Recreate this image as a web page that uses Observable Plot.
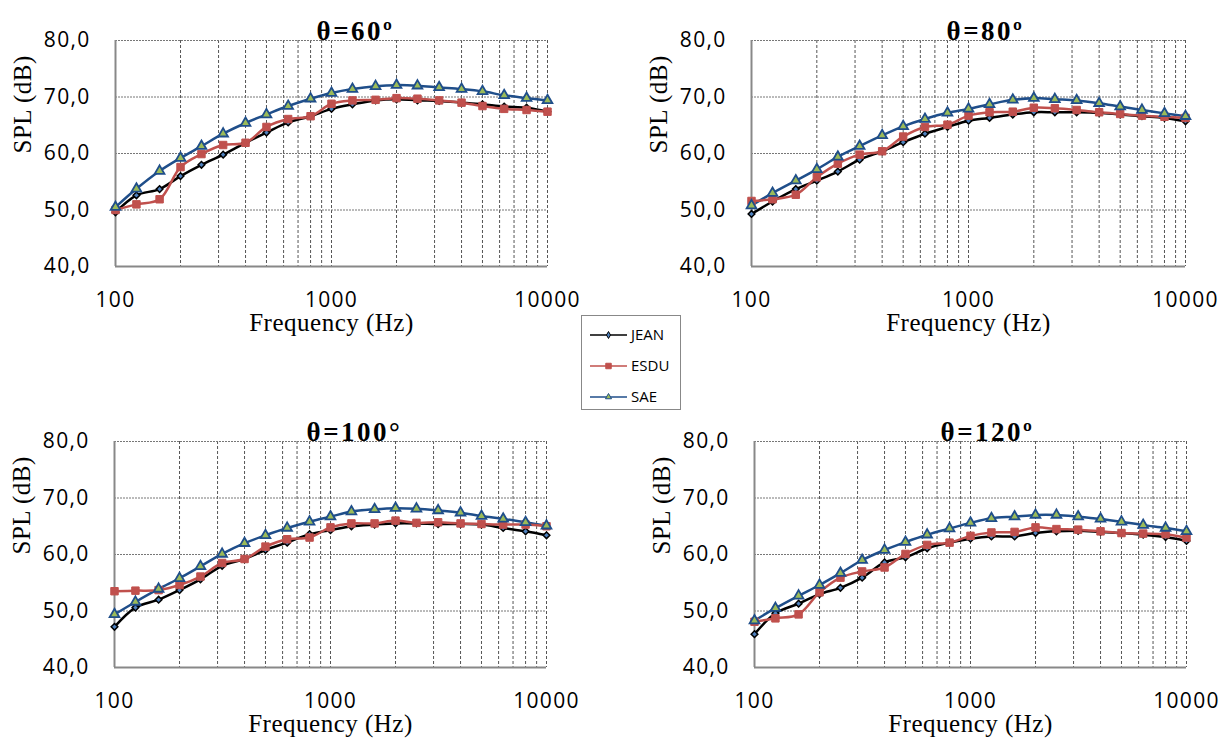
<!DOCTYPE html>
<html>
<head>
<meta charset="utf-8">
<script src="https://cdn.jsdelivr.net/npm/d3@7"></script>
<script src="https://cdn.jsdelivr.net/npm/@observablehq/plot@0.6"></script>
<style>
  html, body { margin: 0; padding: 0; background: #fff; }
  #root { position: relative; width: 1232px; height: 744px; overflow: hidden; }
  .panel { position: absolute; }
  #legend { position: absolute; left: 581px; top: 315px; }
  g[aria-label="x-axis tick label"] text, g[aria-label="y-axis tick label"] text { letter-spacing: 1.3px; }
</style>
</head>
<body>
<div id="root"></div>
<script>
// ---- data ----
const freqs = [100, 125, 160, 200, 250, 315, 400, 500, 630, 800, 1000, 1250, 1600, 2000, 2500, 3150, 4000, 5000, 6300, 8000, 10000];
const seriesNames = ["JEAN", "ESDU", "SAE"];
const panelTitles = ["θ=60º", "θ=80º", "θ=100°", "θ=120º"];
const xTicks = [100, 1000, 10000];
const yTicks = [40, 50, 60, 70, 80];
const gridFreqs = [200, 300, 400, 500, 600, 700, 800, 900, 1000, 2000, 3000, 4000, 5000, 6000, 7000, 8000, 9000];

const jean60 = [49.6, 52.6, 53.7, 56.0, 58.0, 59.8, 61.9, 63.7, 65.5, 66.6, 67.9, 68.7, 69.4, 69.6, 69.4, 69.3, 69.0, 68.7, 68.3, 68.1, 67.4];
const esdu60 = [50.0, 51.0, 51.9, 57.6, 59.9, 61.5, 61.9, 64.7, 66.1, 66.6, 68.8, 69.4, 69.5, 69.8, 69.7, 69.4, 69.0, 68.4, 67.9, 67.7, 67.4];
const sae60  = [50.5, 53.75, 56.9, 59.2, 61.3, 63.5, 65.4, 66.9, 68.4, 69.7, 70.7, 71.4, 71.9, 72.1, 72.0, 71.7, 71.4, 71.0, 70.3, 69.8, 69.4];

const jean80 = [49.3, 51.5, 53.7, 55.2, 56.8, 58.9, 60.4, 62.0, 63.5, 64.7, 65.8, 66.3, 66.9, 67.3, 67.3, 67.3, 67.2, 66.9, 66.6, 66.3, 65.7];
const esdu80 = [51.6, 51.9, 52.7, 55.8, 58.2, 59.8, 60.4, 63.0, 64.7, 65.1, 66.7, 67.3, 67.4, 68.1, 68.0, 67.7, 67.3, 67.0, 66.7, 66.5, 66.3];
const sae80  = [50.8, 53.0, 55.2, 57.2, 59.4, 61.3, 63.2, 64.8, 66.1, 67.2, 67.9, 68.7, 69.5, 69.8, 69.6, 69.4, 68.9, 68.3, 67.7, 67.1, 66.6];

const jean100 = [47.2, 50.6, 52.0, 53.7, 55.6, 58.0, 59.2, 60.8, 62.1, 63.6, 64.3, 65.0, 65.3, 65.5, 65.5, 65.4, 65.4, 65.3, 64.7, 64.1, 63.4];
const esdu100 = [53.5, 53.6, 53.7, 54.6, 56.1, 58.5, 59.2, 61.4, 62.7, 63.0, 64.8, 65.5, 65.5, 66.0, 65.6, 65.7, 65.5, 65.4, 65.3, 65.3, 65.0];
const sae100  = [49.4, 51.6, 53.9, 55.8, 57.9, 60.1, 62.0, 63.4, 64.7, 65.8, 66.7, 67.6, 68.0, 68.2, 68.1, 67.8, 67.4, 66.8, 66.3, 65.7, 65.1];

const jean120 = [45.9, 49.6, 51.3, 53.0, 54.1, 55.9, 58.6, 59.5, 61.1, 62.1, 62.8, 63.2, 63.2, 63.8, 64.1, 64.2, 64.0, 63.8, 63.5, 63.1, 62.4];
const esdu120 = [48.1, 48.7, 49.4, 53.3, 55.9, 57.0, 57.7, 60.1, 61.7, 62.1, 63.3, 63.9, 64.0, 64.8, 64.5, 64.4, 64.1, 63.8, 63.7, 63.6, 63.0];
const sae120  = [48.3, 50.5, 52.7, 54.6, 56.7, 59.0, 60.8, 62.2, 63.5, 64.6, 65.6, 66.4, 66.7, 67.0, 67.0, 66.7, 66.3, 65.8, 65.2, 64.7, 64.1];

const panelSeries = [
  [jean60, esdu60, sae60],
  [jean80, esdu80, sae80],
  [jean100, esdu100, sae100],
  [jean120, esdu120, sae120]
];

// ---- styles ----
const colors = {JEAN: "#000000", ESDU: "#c0504d", SAE: "#1f4e8a"};
const tickFont = "Open Sans, Lato, sans-serif";
const serif = "Liberation Serif, Times New Roman, serif";

const W = 616, H = 372;
const layouts = [
  {left: 0,   top: 0,   ml: 115, mr: 69, mt: 40, mb: 106, tdx: 24},
  {left: 616, top: 0,   ml: 135, mr: 47, mt: 40, mb: 106, tdx: 17},
  {left: 0,   top: 372, ml: 114, mr: 70, mt: 69, mb: 77, tdx: 24},
  {left: 616, top: 372, ml: 138, mr: 46, mt: 69, mb: 77, tdx: 17}
];

const root = document.getElementById("root");
const fmtY = d => d.toFixed(1).replace(".", ",");

panelSeries.forEach((ser, i) => {
  const L = layouts[i];
  const rows = [];
  ser.forEach((vals, s) => vals.forEach((v, k) => rows.push({series: seriesNames[s], f: freqs[k], v})));
  const by = name => rows.filter(r => r.series === name);

  const chart = Plot.plot({
    width: W, height: H,
    marginLeft: L.ml, marginRight: L.mr, marginTop: L.mt, marginBottom: L.mb,
    style: {background: "transparent", overflow: "visible"},
    x: {type: "log", domain: [100, 10000]},
    y: {domain: [40, 80]},
    marks: [
      Plot.ruleX(gridFreqs, {stroke: "#555", strokeWidth: 1, strokeDasharray: "3,2"}),
      Plot.ruleX([10000], {stroke: "#555", strokeWidth: 1, strokeDasharray: "3,2"}),
      Plot.ruleY([50, 60, 70, 80], {stroke: "#777", strokeWidth: 1, strokeDasharray: "2,1"}),
      Plot.ruleX([100], {stroke: "#888", strokeWidth: 2}),
      Plot.ruleY([40], {stroke: "#888", strokeWidth: 2}),
      Plot.axisX({ticks: xTicks, tickFormat: d => String(d), tickSize: 0, tickPadding: 26,
                  fontSize: 21, fontFamily: tickFont, label: null}),
      Plot.axisY({ticks: yTicks, tickFormat: fmtY, tickSize: 0, tickPadding: 25,
                  fontSize: 21, fontFamily: tickFont, label: null}),
      // lines
      Plot.line(by("SAE"), {x: "f", y: "v", stroke: colors.SAE, strokeWidth: 2.5, curve: "catmull-rom"}),
      Plot.line(by("JEAN"), {x: "f", y: "v", stroke: colors.JEAN, strokeWidth: 2.5, curve: "catmull-rom"}),
      Plot.line(by("ESDU"), {x: "f", y: "v", stroke: colors.ESDU, strokeWidth: 2.5, curve: "catmull-rom"}),
      // markers
      Plot.dot(by("JEAN"), {x: "f", y: "v", symbol: "diamond2", r: 3, fill: "#4f81bd", stroke: "#000", strokeWidth: 1.5}),
      Plot.dot(by("ESDU"), {x: "f", y: "v", symbol: "square", r: 4.2, fill: colors.ESDU, stroke: colors.ESDU, strokeWidth: 1}),
      Plot.dot(by("SAE"), {x: "f", y: "v", symbol: "triangle", r: 3.6, fill: "#9bbb59", stroke: colors.SAE, strokeWidth: 1.8}),
      // titles
      Plot.text([panelTitles[i]], {frameAnchor: "top", dy: -20, dx: L.tdx, fontSize: 27, fontWeight: "bold", fontFamily: serif, fill: "#000"}),
      Plot.text(["Frequency (Hz)"], {frameAnchor: "bottom", dy: 64, fontSize: 25, fontFamily: serif, fill: "#000"}),
      Plot.text(["SPL (dB)"], {frameAnchor: "left", dx: -93, rotate: -90, fontSize: 25, fontFamily: serif, fill: "#000"})
    ]
  });
  // widen the titles slightly to match the reference's text widths
  d3.select(chart).selectAll("text").each(function() {
    const t = this.textContent;
    if (t === panelTitles[i]) this.style.letterSpacing = "2.5px";
    else if (t === "Frequency (Hz)" || t === "SPL (dB)") this.style.letterSpacing = "0.5px";
  });
  chart.classList.add("panel");
  chart.style.left = L.left + "px";
  chart.style.top = L.top + "px";
  root.appendChild(chart);
});

// ---- legend ----
const lg = d3.create("svg").attr("width", 100).attr("height", 95).attr("id", "legend");
lg.append("rect").attr("x", 0.5).attr("y", 0.5).attr("width", 99).attr("height", 94)
  .attr("fill", "#fff").attr("stroke", "#888").attr("stroke-width", 1);
const legendMarkers = {
  JEAN: {sym: d3.symbolDiamond, size: 14, fill: "#4f81bd", stroke: "#000"},
  ESDU: {sym: d3.symbolSquare, size: 30, fill: colors.ESDU, stroke: colors.ESDU},
  SAE: {sym: d3.symbolTriangle, size: 16, fill: "#9bbb59", stroke: colors.SAE}
};
seriesNames.forEach((name, k) => {
  const y = 20 + k * 31;
  const g = lg.append("g");
  g.append("line").attr("x1", 9).attr("x2", 46).attr("y1", y).attr("y2", y)
    .attr("stroke", colors[name]).attr("stroke-width", 1.5);
  const m = legendMarkers[name];
  g.append("path").attr("d", d3.symbol(m.sym, m.size)()).attr("transform", `translate(27.5,${y})`)
    .attr("fill", m.fill).attr("stroke", m.stroke).attr("stroke-width", 1);
  g.append("text").attr("x", 50).attr("y", y).attr("dy", "0.36em").attr("font-size", 15)
    .attr("font-family", tickFont).attr("fill", "#000").text(name);
});
root.appendChild(lg.node());
</script>
</body>
</html>
